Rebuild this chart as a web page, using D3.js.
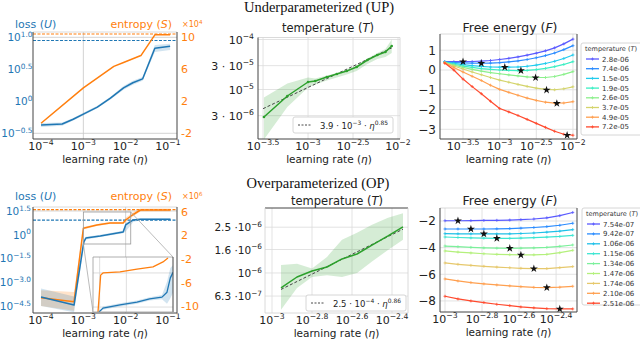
<!DOCTYPE html>
<html>
<head>
<meta charset="utf-8">
<script src="https://cdn.jsdelivr.net/npm/d3@7"></script>
<style>
  body { margin: 0; background: #fff; }
  text { font-family: "DejaVu Sans", sans-serif; }
</style>
</head>
<body>
<svg id="chart" width="640" height="340"></svg>
<script>
// ---- data (all x values are log10 of the learning rate) ----
// UP: loss (log10 U) and entropy (x1e4)
const upLossEta = [-4.0, -3.5, -3.24, -3.0, -2.67, -2.36, -2.05, -1.83, -1.6, -1.31, -0.95];
const upLoss    = [-0.37, -0.355, -0.28, -0.2, -0.09, 0.05, 0.21, 0.29, 0.35, 0.83, 0.86];
const upLossLo  = [-0.4, -0.38, -0.3, -0.22, -0.11, 0.03, 0.18, 0.26, 0.32, 0.77, 0.8];
const upLossHi  = [-0.34, -0.33, -0.26, -0.18, -0.07, 0.07, 0.24, 0.32, 0.38, 0.88, 0.9];
const upEntEta  = [-4.0, -3.0, -2.28, -2.05, -1.64, -1.31, -0.95];
const upEnt     = [-0.73, 3.67, 6.36, 6.85, 7.71, 10.3, 10.3];
const upLossMax = 0.95;
const upEntMax  = 10.4;

// UP: temperature (log10 T)
const upTempEta = [-3.49, -3.23, -3.0, -2.92, -2.79, -2.68, -2.57, -2.46, -2.34, -2.23, -2.14, -2.07];
const upTemp    = [-5.55, -5.13, -4.85, -4.83, -4.75, -4.69, -4.63, -4.55, -4.41, -4.31, -4.25, -4.13];
const upTempLo  = [-6.0, -5.35, -4.96, -4.9, -4.82, -4.76, -4.7, -4.63, -4.49, -4.39, -4.35, -4.27];
const upTempHi  = [-5.16, -4.88, -4.76, -4.78, -4.72, -4.67, -4.6, -4.52, -4.38, -4.27, -4.19, -4.0];
const upFitEta  = [-3.5, -2.07];
const upFit     = [-5.384, -4.169];

// UP: free energy per temperature
const upFreeEta = [-3.75, -3.625, -3.5, -3.375, -3.25, -3.125, -3.0, -2.875, -2.75, -2.625, -2.5, -2.375, -2.25, -2.125, -2.0];
const upTemps   = ["2.8e-06", "7.4e-06", "1.5e-05", "1.9e-05", "2.6e-05", "3.7e-05", "4.9e-05", "7.2e-05"];
const upFree = [
  [0.42, 0.42, 0.42, 0.43, 0.45, 0.48, 0.53, 0.59, 0.66, 0.75, 0.85, 0.97, 1.12, 1.32, 1.56],
  [0.41, 0.38, 0.36, 0.35, 0.34, 0.35, 0.37, 0.41, 0.46, 0.53, 0.62, 0.73, 0.86, 1.03, 1.23],
  [0.40, 0.33, 0.27, 0.22, 0.18, 0.15, 0.14, 0.14, 0.15, 0.19, 0.25, 0.33, 0.44, 0.58, 0.76],
  [0.39, 0.29, 0.20, 0.13, 0.07, 0.03, 0.0, -0.02, -0.03, -0.02, 0.02, 0.08, 0.17, 0.28, 0.42],
  [0.38, 0.25, 0.13, 0.03, -0.06, -0.13, -0.19, -0.25, -0.3, -0.35, -0.38, -0.38, -0.33, -0.22, -0.08],
  [0.37, 0.2, 0.05, -0.1, -0.24, -0.38, -0.51, -0.62, -0.73, -0.83, -0.92, -0.98, -1.0, -0.95, -0.85],
  [0.36, 0.13, -0.1, -0.32, -0.53, -0.77, -0.98, -1.13, -1.28, -1.42, -1.54, -1.63, -1.68, -1.67, -1.6],
  [0.35, 0.0, -0.46, -0.84, -1.2, -1.58, -1.95, -2.12, -2.3, -2.5, -2.7, -2.9, -3.1, -3.25, -3.3]
];
const upStarEta = [-3.5, -3.25, -2.93, -2.71, -2.51, -2.36, -2.22, -2.08];
const upStarF   = [0.42, 0.34, 0.14, -0.03, -0.39, -1.01, -1.69, -3.3];

// OP: loss (log10 U) and entropy (x1e6)
const opLossEta = [-4.0, -3.22, -2.99, -2.94, -2.6, -2.06, -2.0, -1.82, -1.65, -0.94];
const opLoss    = [-3.93, -4.44, -0.46, -0.21, -0.08, 0.17, 0.62, 0.93, 0.97, 0.97];
const opLossLo  = [-4.5, -4.9, -0.75, -0.3, -0.15, 0.1, 0.2, 0.8, 0.92, 0.92];
const opLossHi  = [-3.4, -3.9, -0.3, -0.12, 0.0, 0.25, 0.75, 1.0, 1.02, 1.02];
const opEntEta  = [-4.0, -3.22, -3.0, -2.68, -2.37, -2.06, -2.0, -1.84, -1.65, -0.94];
const opEnt     = [-8.59, -9.27, 3.23, 3.79, 4.13, 4.13, 4.64, 5.49, 6.34, 6.34];
const opEntLo   = [-10.0, -10.8, 3.0, 3.6, 3.95, 3.95, 4.3, 5.2, 6.1, 6.1];
const opEntHi   = [-7.3, -7.6, 3.45, 3.95, 4.3, 4.3, 5.0, 5.9, 6.6, 6.6];
const opLossMax = 0.92;
const opEntMax  = 6.4;

// OP inset (fraction of inset height)
const insEntEta  = [-2.975, -2.935, -2.9, -2.645, -2.39, -2.15, -2.0, -1.925];
const insEnt     = [0, 0.67, 0.71, 0.73, 0.78, 0.82, 0.91, 0.98];
const insLossEta = [-2.96, -2.9, -2.645, -2.39, -2.2, -2.015, -1.94, -1.89, -1.85];
const insLoss    = [0, 0.07, 0.13, 0.18, 0.24, 0.27, 0.36, 0.62, 0.72];
const insLossLo  = [0, 0.04, 0.1, 0.15, 0.21, 0.23, 0.15, 0.25, 0.35];
const insLossHi  = [0, 0.1, 0.16, 0.21, 0.27, 0.31, 0.55, 0.8, 0.85];

// OP: temperature (log10 T)
const opTempEta = [-2.955, -2.875, -2.8, -2.725, -2.65, -2.575, -2.5, -2.42, -2.345];
const opTemp    = [-6.13, -6.035, -5.983, -5.948, -5.878, -5.835, -5.757, -5.678, -5.6];
const opTempLo  = [-6.32, -6.13, -6.035, -6.02, -6.035, -6.0, -5.9, -5.8, -5.71];
const opTempHi  = [-5.93, -5.92, -5.96, -5.86, -5.71, -5.65, -5.58, -5.52, -5.48];
const opFitEta  = [-2.955, -2.345];
const opFit     = [-6.143, -5.619];

// OP: free energy per temperature
const opFreeEta = [-3.0, -2.93, -2.86, -2.79, -2.72, -2.65, -2.59, -2.52, -2.45, -2.38, -2.31];
const opTemps   = ["7.54e-07", "9.42e-07", "1.06e-06", "1.15e-06", "1.34e-06", "1.47e-06", "1.74e-06", "2.10e-06", "2.51e-06"];
const opFree = [
  [-1.98, -1.98, -1.97, -1.96, -1.95, -1.93, -1.9, -1.85, -1.76, -1.6, -1.36],
  [-2.6, -2.6, -2.6, -2.6, -2.59, -2.57, -2.54, -2.49, -2.42, -2.32, -2.17],
  [-2.95, -2.96, -2.97, -2.97, -2.97, -2.96, -2.94, -2.9, -2.84, -2.76, -2.65],
  [-3.2, -3.24, -3.27, -3.29, -3.3, -3.3, -3.28, -3.25, -3.21, -3.16, -3.08],
  [-3.88, -3.93, -3.98, -4.02, -4.04, -4.05, -4.04, -4.02, -3.98, -3.9, -3.8],
  [-4.25, -4.33, -4.4, -4.46, -4.5, -4.53, -4.55, -4.54, -4.5, -4.38, -4.2],
  [-5.15, -5.25, -5.33, -5.4, -5.46, -5.51, -5.55, -5.58, -5.57, -5.5, -5.42],
  [-6.35, -6.5, -6.62, -6.72, -6.8, -6.87, -6.93, -6.98, -7.0, -6.97, -6.9],
  [-7.65, -7.85, -8.0, -8.12, -8.25, -8.35, -8.45, -8.52, -8.58, -8.6, -8.6]
];
const opStarEta = [-2.93, -2.86, -2.79, -2.72, -2.65, -2.59, -2.52, -2.45, -2.38];
const opStarF   = [-1.98, -2.6, -2.97, -3.3, -4.05, -4.55, -5.58, -7.0, -8.6];

// tick values
const lrTicksWide = [-4, -3, -2, -1];
const upLossTicks = [1.0, 0.5, 0, -0.5];
const upEntTicks  = [10, 6, 2, -2];
const upTempXTicks = [-3.5, -3, -2.5, -2];
const upTempYTicks = [[-4, "", "−4"], [Math.log10(3e-5), "3 · ", "−5"], [-5, "", "−5"], [Math.log10(3e-6), "3 · ", "−6"]];
const upFreeYTicks = [1, 0, -1, -2, -3];
const opLossTicks = [1.5, 0, -1.5, -3.0, -4.5];
const opEntTicks  = [6, 2, -2, -6, -10];
const opXTicks    = [-3, -2.8, -2.6, -2.4];
const opTempYTicks = [[Math.log10(2.5e-6), "2.5 ·", "−6"], [Math.log10(1.6e-6), "1.6 ·", "−6"], [-6, "", "−6"], [Math.log10(6.3e-7), "6.3 ·", "−7"]];
const opFreeYTicks = [-2, -4, -6, -8];

// ---- styles ----
const BLUE = "#1f77b4", ORANGE = "#ff7f0e", GREEN = "#2ca02c";
const DARK = "#444", LIGHT = "#d0d0d0", GRID = "#dcdcdc";
const upColors = ["#5a5aff", "#2a8cff", "#22ccee", "#3cefc4", "#8cf08c", "#d4d46c", "#ffa050", "#ff4a2e"];
const opColors = ["#5a5aff", "#2a8cff", "#1ec0e8", "#3ce6d2", "#7cf09c", "#b4f07c", "#e6c86c", "#ffa050", "#ff4a2e"];

const svg = d3.select("#chart");
let clipN = 0;

const fmtExp = v => (v < 0 ? "−" : "") + Math.abs(v);
const fmtExp1 = v => (v < 0 ? "−" : "") + Math.abs(v).toFixed(1);

function rich(g, x, y, parts, o = {}) {
  const fs = o.size || 11;
  const t = g.append("text").attr("x", x).attr("y", y)
    .attr("font-size", fs).attr("fill", o.color || "#222")
    .attr("text-anchor", o.anchor || "start");
  if (o.family) t.style("font-family", o.family);
  let up = false;
  parts.forEach(p => {
    const s = t.append("tspan").text(p.t);
    const wantUp = !!p.sup;
    if (wantUp && !up) s.attr("dy", -fs * 0.42);
    if (!wantUp && up) s.attr("dy", fs * 0.42);
    up = wantUp;
    if (p.sup) s.attr("font-size", fs * 0.7);
    if (p.it) s.attr("font-style", "italic");
  });
  return t;
}

function makePanel(box, xDom, yDom, spines, bg) {
  const g = svg.append("g");
  const x = d3.scaleLinear().domain(xDom).range([box.l, box.r]);
  const y = d3.scaleLinear().domain(yDom).range([box.b, box.t]);
  const id = "clip" + (clipN++);
  svg.append("clipPath").attr("id", id).append("rect")
    .attr("x", box.l).attr("y", box.t).attr("width", box.r - box.l).attr("height", box.b - box.t);
  if (bg) g.append("rect").attr("x", box.l).attr("y", box.t)
    .attr("width", box.r - box.l).attr("height", box.b - box.t).attr("fill", "#fff");
  const grid = g.append("g");
  const plot = g.append("g").attr("clip-path", `url(#${id})`);
  const frame = g.append("g");
  const s = spines;
  [["t", box.l, box.t, box.r, box.t], ["r", box.r, box.t, box.r, box.b],
   ["b", box.l, box.b, box.r, box.b], ["l", box.l, box.t, box.l, box.b]].forEach(([k, x1, y1, x2, y2]) => {
    frame.append("line").attr("x1", x1).attr("y1", y1).attr("x2", x2).attr("y2", y2)
      .attr("stroke", s[k]).attr("stroke-width", s[k] === DARK ? 1 : 0.8);
  });
  return { g, x, y, box, grid, plot, frame };
}

function gridLines(p, xs, ys, yScale, color) {
  const ys2 = yScale || p.y;
  p.grid.selectAll(null).data(xs).join("line")
    .attr("x1", d => p.x(d)).attr("x2", d => p.x(d))
    .attr("y1", p.box.t).attr("y2", p.box.b)
    .attr("stroke", color || GRID).attr("stroke-width", 0.8);
  p.grid.selectAll(null).data(ys).join("line")
    .attr("y1", d => ys2(d)).attr("y2", d => ys2(d))
    .attr("x1", p.box.l).attr("x2", p.box.r)
    .attr("stroke", color || GRID).attr("stroke-width", 0.8);
}

function xLogTicks(p, ticks, fmt) {
  ticks.forEach(v => rich(p.g, p.x(v), p.box.b + 11,
    [{ t: "10" }, { t: fmt(v), sup: true }], { anchor: "middle" }));
}

function xLabel(p) {
  rich(p.g, (p.box.l + p.box.r) / 2, p.box.b + 24,
    [{ t: "learning rate (" }, { t: "η", it: true }, { t: ")" }], { anchor: "middle", size: 10.5 });
}

function drawLine(p, xs, ys, color, yScale, w) {
  const ysc = yScale || p.y;
  p.plot.append("path").datum(d3.zip(xs, ys))
    .attr("fill", "none").attr("stroke", color).attr("stroke-width", w || 1.5)
    .attr("stroke-linejoin", "round")
    .attr("d", d3.line().x(d => p.x(d[0])).y(d => ysc(d[1])));
}

function drawBand(p, xs, lo, hi, color, yScale, op) {
  const ysc = yScale || p.y;
  p.plot.append("path").datum(d3.zip(xs, lo, hi))
    .attr("fill", color).attr("opacity", op || 0.2)
    .attr("d", d3.area().x(d => p.x(d[0])).y0(d => ysc(d[1])).y1(d => ysc(d[2])));
}

function hDash(p, v, yScale, color) {
  p.plot.append("line").attr("x1", p.box.l).attr("x2", p.box.r)
    .attr("y1", yScale(v)).attr("y2", yScale(v))
    .attr("stroke", color).attr("stroke-width", 1.1).attr("stroke-dasharray", "3,1.5");
}

function freeCurves(p, xs, rows, colors, starX, starY) {
  rows.forEach((row, i) => {
    drawLine(p, xs, row, colors[i], null, 1.2);
    p.plot.selectAll(null).data(d3.zip(xs, row)).join("path")
      .attr("transform", d => `translate(${p.x(d[0])},${p.y(d[1])})`)
      .attr("d", "M-1.5,0H1.5M0,-1.5V1.5")
      .attr("stroke", colors[i]).attr("stroke-width", 0.8);
  });
  p.plot.selectAll(null).data(d3.zip(starX, starY)).join("path")
    .attr("transform", d => `translate(${p.x(d[0])},${p.y(d[1])})`)
    .attr("d", d3.symbol(d3.symbolStar).size(20))
    .attr("fill", "#111");
}

function tempLegend(x0, y0, h, step, labels, colors) {
  const g = svg.append("g");
  g.append("rect").attr("x", x0).attr("y", y0).attr("width", 70).attr("height", h)
    .attr("rx", 2).attr("fill", "#fff").attr("stroke", "#ccc").attr("stroke-width", 0.8);
  rich(g, x0 + 4, y0 + 8, [{ t: "temperature (" }, { t: "T", it: true }, { t: ")" }], { size: 6.5, color: "#333" });
  labels.forEach((lab, i) => {
    const yy = y0 + 16 + i * step;
    g.append("line").attr("x1", x0 + 5).attr("x2", x0 + 18).attr("y1", yy).attr("y2", yy)
      .attr("stroke", colors[i]).attr("stroke-width", 1.3);
    g.append("path").attr("transform", `translate(${x0 + 11.5},${yy})`)
      .attr("d", "M-1.5,0H1.5M0,-1.5V1.5").attr("stroke", colors[i]).attr("stroke-width", 0.8);
    g.append("text").attr("x", x0 + 21).attr("y", yy + 2.5).attr("font-size", 7)
      .attr("fill", "#333").text(lab);
  });
}

function fitLegend(x0, y0, parts) {
  const g = svg.append("g");
  g.append("rect").attr("x", x0).attr("y", y0).attr("width", 100).attr("height", 16)
    .attr("rx", 2).attr("fill", "#fff").attr("stroke", "#ccc").attr("stroke-width", 0.8);
  g.append("line").attr("x1", x0 + 5).attr("x2", x0 + 19).attr("y1", y0 + 8).attr("y2", y0 + 8)
    .attr("stroke", "#333").attr("stroke-width", 0.9).attr("stroke-dasharray", "2,1.5");
  rich(g, x0 + 27, y0 + 11.5, parts, { size: 8.5 });
}

// ================= top-left: UP loss / entropy =================
{
  const p = makePanel({ l: 33, r: 177, t: 32, b: 139 }, [-4.19, -0.787], [-0.589, 1.083],
    { t: LIGHT, r: DARK, b: DARK, l: DARK });
  const yR = d3.scaleLinear().domain([-2.70, 10.65]).range([139, 32]);
  gridLines(p, [-3], [-0.5, 1.0], null, "#c8c8c8");
  hDash(p, upEntMax, yR, ORANGE);
  hDash(p, upLossMax, p.y, BLUE);
  drawBand(p, upLossEta, upLossLo, upLossHi, BLUE);
  drawLine(p, upEntEta, upEnt, ORANGE, yR);
  drawLine(p, upLossEta, upLoss, BLUE);
  xLogTicks(p, lrTicksWide, fmtExp);
  xLabel(p);
  upLossTicks.forEach(v => rich(p.g, 32.5, p.y(v) + 4, [{ t: "10" }, { t: v === 0 ? "0" : fmtExp1(v), sup: true }], { anchor: "end", color: BLUE, size: 10.5 }));
  upEntTicks.forEach(v => p.g.append("text").attr("x", 181).attr("y", yR(v) + 4)
    .attr("font-size", 11).attr("fill", ORANGE).text(v));
  rich(p.g, 15, 28, [{ t: "loss (" }, { t: "U", it: true }, { t: ")" }], { color: BLUE, size: 11 });
  rich(p.g, 172, 28, [{ t: "entropy (" }, { t: "S", it: true }, { t: ")" }], { color: ORANGE, size: 11, anchor: "end" });
  rich(p.g, 182, 27, [{ t: "×10" }, { t: "4", sup: true }], { color: ORANGE, size: 8 });
}

// ================= top-middle: UP temperature =================
rich(svg, 319, 12, [{ t: "Underparameterized (UP)" }], { anchor: "middle", size: 14.5, family: "Liberation Serif", color: "#111" });
{
  const p = makePanel({ l: 258, r: 400, t: 37.5, b: 139 }, [-3.556, -1.978], [-5.99, -3.96],
    { t: LIGHT, r: LIGHT, b: DARK, l: DARK });
  gridLines(p, upTempXTicks, upTempYTicks.map(d => d[0]));
  drawBand(p, upTempEta, upTempLo, upTempHi, GREEN, null, 0.2);
  p.plot.append("path").datum(d3.zip(upFitEta, upFit))
    .attr("fill", "none").attr("stroke", "#333").attr("stroke-width", 0.9).attr("stroke-dasharray", "3,2")
    .attr("d", d3.line().x(d => p.x(d[0])).y(d => p.y(d[1])));
  drawLine(p, upTempEta, upTemp, GREEN);
  p.plot.selectAll(null).data(d3.zip(upTempEta, upTemp)).join("circle")
    .attr("cx", d => p.x(d[0])).attr("cy", d => p.y(d[1])).attr("r", 1.3).attr("fill", GREEN);
  xLogTicks(p, upTempXTicks, fmtExp);
  xLabel(p);
  upTempYTicks.forEach(([v, pre, e]) => rich(p.g, 254, p.y(v) + 4, [{ t: pre + "10" }, { t: e, sup: true }], { anchor: "end" }));
  rich(p.g, 328, 32, [{ t: "temperature (" }, { t: "T", it: true }, { t: ")" }], { anchor: "middle", size: 11.5 });
  fitLegend(293, 117, [{ t: "3.9 · 10" }, { t: "−3", sup: true }, { t: " · " }, { t: "η", it: true }, { t: "0.85", sup: true }]);
}

// ================= top-right: UP free energy =================
{
  const p = makePanel({ l: 440, r: 577, t: 34, b: 139 }, [-3.814, -1.945], [-3.49, 1.82],
    { t: LIGHT, r: DARK, b: DARK, l: DARK });
  gridLines(p, upTempXTicks, upFreeYTicks);
  freeCurves(p, upFreeEta, upFree, upColors, upStarEta, upStarF);
  xLogTicks(p, upTempXTicks, fmtExp);
  xLabel(p);
  upFreeYTicks.forEach(v => p.g.append("text").attr("x", 436).attr("y", p.y(v) + 4.5)
    .attr("text-anchor", "end").attr("font-size", 12).attr("fill", "#222").text(fmtExp(v)));
  rich(p.g, 510, 32, [{ t: "Free energy (" }, { t: "F", it: true }, { t: ")" }], { anchor: "middle", size: 12.5 });
  tempLegend(581, 43, 92, 9.7, upTemps, upColors);
}

// ================= bottom-left: OP loss / entropy =================
{
  const p = makePanel({ l: 33, r: 177, t: 207, b: 313 }, [-4.19, -0.787], [-4.94, 1.75],
    { t: LIGHT, r: DARK, b: DARK, l: DARK });
  const yR = d3.scaleLinear().domain([-11.19, 6.85]).range([313, 207]);
  gridLines(p, [-2], [1.5], null, "#c8c8c8");
  hDash(p, opEntMax, yR, ORANGE);
  hDash(p, opLossMax, p.y, BLUE);
  drawBand(p, opEntEta, opEntLo, opEntHi, ORANGE, yR, 0.22);
  drawBand(p, opLossEta, opLossLo, opLossHi, BLUE, null, 0.2);
  drawLine(p, opEntEta, opEnt, ORANGE, yR);
  drawLine(p, opLossEta, opLoss, BLUE);

  // zoom indicator and connectors
  const rx0 = p.x(-3.0), rx1 = p.x(-1.88), ry0 = 212, ry1 = 244;
  const ins = { l: 93, r: 173, t: 257, b: 312 };
  p.g.append("rect").attr("x", rx0).attr("y", ry0).attr("width", rx1 - rx0).attr("height", ry1 - ry0)
    .attr("fill", "none").attr("stroke", "#999").attr("stroke-width", 0.8);
  p.g.append("line").attr("x1", rx0).attr("y1", ry1).attr("x2", ins.l).attr("y2", ins.b)
    .attr("stroke", "#aaa").attr("stroke-width", 0.8);
  p.g.append("line").attr("x1", rx1).attr("y1", ry0).attr("x2", ins.r).attr("y2", ins.t)
    .attr("stroke", "#aaa").attr("stroke-width", 0.8);

  const q = makePanel(ins, [-3.05, -1.85], [0, 1], { t: "#999", r: DARK, b: "#999", l: "#999" }, true);
  gridLines(q, [-2.95, -2.55], [0.09, 0.71], null, "#d4d4d4");
  drawBand(q, insLossEta, insLossLo, insLossHi, BLUE, null, 0.2);
  drawLine(q, insEntEta, insEnt, ORANGE, null, 1.3);
  drawLine(q, insLossEta, insLoss, BLUE, null, 1.3);

  xLogTicks(p, lrTicksWide, fmtExp);
  xLabel(p);
  opLossTicks.forEach(v => rich(p.g, 31, p.y(v) + 4, [{ t: "10" }, { t: v === 0 ? "0" : fmtExp1(v), sup: true }], { anchor: "end", color: BLUE, size: 10.5 }));
  opEntTicks.forEach(v => p.g.append("text").attr("x", 181).attr("y", yR(v) + 4)
    .attr("font-size", 11).attr("fill", ORANGE).text(v));
  rich(p.g, 15, 200, [{ t: "loss (" }, { t: "U", it: true }, { t: ")" }], { color: BLUE, size: 11 });
  rich(p.g, 172, 200, [{ t: "entropy (" }, { t: "S", it: true }, { t: ")" }], { color: ORANGE, size: 11, anchor: "end" });
  rich(p.g, 182, 199, [{ t: "×10" }, { t: "6", sup: true }], { color: ORANGE, size: 8 });
}

// ================= bottom-middle: OP temperature =================
rich(svg, 318, 188, [{ t: "Overparameterized (OP)" }], { anchor: "middle", size: 14.5, family: "Liberation Serif", color: "#111" });
{
  const p = makePanel({ l: 265, r: 408, t: 208, b: 313 }, [-3.035, -2.32], [-6.348, -5.435],
    { t: DARK, r: LIGHT, b: LIGHT, l: LIGHT });
  gridLines(p, opXTicks, opTempYTicks.map(d => d[0]));
  drawBand(p, opTempEta, opTempLo, opTempHi, GREEN, null, 0.2);
  p.plot.append("path").datum(d3.zip(opFitEta, opFit))
    .attr("fill", "none").attr("stroke", "#333").attr("stroke-width", 0.9).attr("stroke-dasharray", "3,2")
    .attr("d", d3.line().x(d => p.x(d[0])).y(d => p.y(d[1])));
  drawLine(p, opTempEta, opTemp, GREEN);
  xLogTicks(p, opXTicks, fmtExp);
  xLabel(p);
  opTempYTicks.forEach(([v, pre, e]) => rich(p.g, 262, p.y(v) + 4, [{ t: pre + "10" }, { t: e, sup: true }], { anchor: "end", size: 10.5 }));
  rich(p.g, 337, 205, [{ t: "temperature (" }, { t: "T", it: true }, { t: ")" }], { anchor: "middle", size: 11.5 });
  fitLegend(306, 295, [{ t: "2.5 · 10" }, { t: "−4", sup: true }, { t: " · " }, { t: "η", it: true }, { t: "0.86", sup: true }]);
}

// ================= bottom-right: OP free energy =================
{
  const p = makePanel({ l: 440, r: 577, t: 208, b: 312 }, [-3.027, -2.287], [-8.83, -1.025],
    { t: LIGHT, r: DARK, b: DARK, l: DARK });
  gridLines(p, opXTicks, opFreeYTicks);
  freeCurves(p, opFreeEta, opFree, opColors, opStarEta, opStarF);
  xLogTicks(p, opXTicks, fmtExp);
  xLabel(p);
  opFreeYTicks.forEach(v => p.g.append("text").attr("x", 436).attr("y", p.y(v) + 4.5)
    .attr("text-anchor", "end").attr("font-size", 12).attr("fill", "#222").text(fmtExp(v)));
  rich(p.g, 510, 205, [{ t: "Free energy (" }, { t: "F", it: true }, { t: ")" }], { anchor: "middle", size: 12.5 });
  tempLegend(582, 208, 97, 9.9, opTemps, opColors);
}
</script>
</body>
</html>
